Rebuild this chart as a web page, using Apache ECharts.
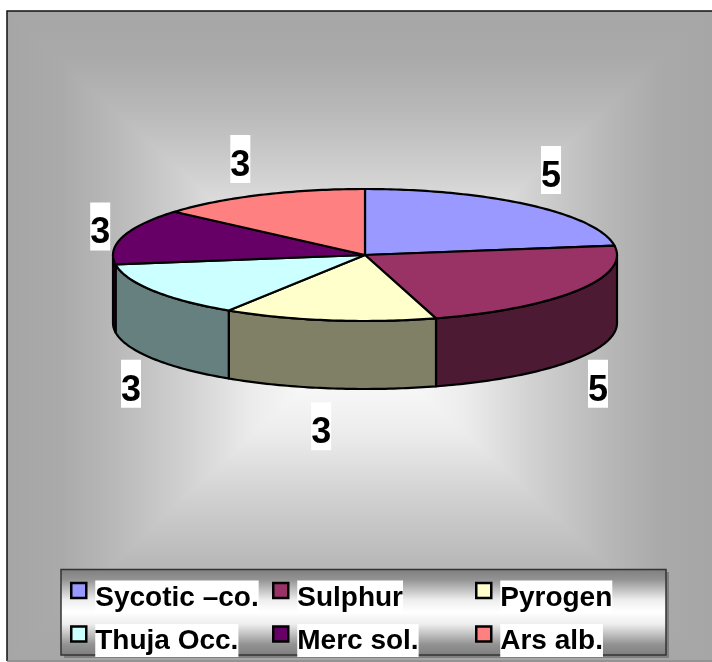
<!DOCTYPE html>
<html>
<head>
<meta charset="utf-8">
<style>html,body{margin:0;padding:0;background:#fff}#chart{width:712px;height:662px}</style>
<script src="https://cdn.jsdelivr.net/npm/echarts@6/dist/echarts.min.js"></script>
</head>
<body>
<div id="chart"></div>
<script>
// Remedies and their counts
const categories = ['Sycotic –co.', 'Sulphur', 'Pyrogen', 'Thuja Occ.', 'Merc sol.', 'Ars alb.'];
const counts = [5, 5, 3, 3, 3, 3];
const topColors = ['#9999FF', '#993366', '#FFFFCC', '#CCFFFF', '#660066', '#FF8080'];
const wallColors = ['#4D4D80', '#4D1A33', '#808066', '#668080', '#330033', '#804040'];
// Label offsets from the outer rim of each slice
const labelOffsets = [[21, -35], [21, 26], [-8, 39], [-22, 26], [-23, -10], [-20, -36]];

// Tilted disc geometry
const disc = { cx: 365, cy: 255, rx: 252, ry: 66, depth: 68 };
const total = counts.reduce((a, b) => a + b, 0);
const startAngles = counts.map((_, i) => counts.slice(0, i).reduce((a, b) => a + b, 0) / total * 360);

function rim(deg, dy) {
  const t = deg * Math.PI / 180;
  return [disc.cx + disc.rx * Math.sin(t), disc.cy - disc.ry * Math.cos(t) + (dy || 0)];
}
function arc(from, to, dy) {
  const pts = [];
  const steps = Math.max(2, Math.ceil(Math.abs(to - from)));
  for (let k = 0; k <= steps; k++) pts.push(rim(from + (to - from) * k / steps, dy));
  return pts;
}

function renderSlice(params, api) {
  const i = params.seriesIndex;
  const value = api.value(0);
  const a0 = startAngles[i];
  const a1 = a0 + value / total * 360;
  const children = [];
  const line = { stroke: '#000', lineWidth: 2.2, lineJoin: 'round' };
  // The side wall only shows on the front half of the disc
  const w0 = Math.max(a0, 90), w1 = Math.min(a1, 270);
  if (w1 > w0) {
    children.push({
      type: 'polygon',
      shape: { points: arc(w0, w1, 0).concat(arc(w1, w0, disc.depth)) },
      style: Object.assign({ fill: wallColors[i] }, line)
    });
  }
  children.push({
    type: 'polygon',
    shape: { points: [[disc.cx, disc.cy]].concat(arc(a0, a1, 0)) },
    style: Object.assign({ fill: topColors[i] }, line)
  });
  const mid = (a0 + a1) / 2;
  const front = mid > 90 && mid < 270;
  const p = rim(mid, front ? disc.depth - 1 : 0);
  // White tag with the digit sitting low inside it
  children.push({
    type: 'text',
    z2: 50,
    style: {
      text: String(value),
      x: p[0] + labelOffsets[i][0],
      y: p[1] + labelOffsets[i][1] - 24,
      align: 'center',
      verticalAlign: 'top',
      fill: '#000',
      font: 'bold 36px "Liberation Sans", Arial, sans-serif',
      backgroundColor: '#fff',
      lineHeight: 34,
      padding: [14, 0, 0, 0]
    }
  });
  return { type: 'group', children };
}

const series = categories.map((name, i) => ({
  name,
  type: 'custom',
  coordinateSystem: 'none',
  renderItem: renderSlice,
  itemStyle: { color: topColors[i] },
  data: [counts[i]],
  silent: true,
  animation: false
}));

// One legend per column, two rows each
function legendColumn(left, names) {
  return {
    left,
    top: 580.5,
    orient: 'vertical',
    padding: 0,
    itemWidth: 15,
    itemHeight: 15,
    itemGap: 10.5,
    selectedMode: false,
    data: names.map(n => ({
      name: n,
      icon: 'rect',
      itemStyle: { color: topColors[categories.indexOf(n)], borderColor: '#000', borderWidth: 2.5 }
    })),
    formatter: '{t|{name}}',
    textStyle: {
      padding: [13, 0, 0, 4],
      rich: {
        t: {
          fontSize: 28, fontWeight: 'bold', fontFamily: '"Liberation Sans", Arial, sans-serif',
          color: '#000', backgroundColor: '#fff', lineHeight: 31, height: 31, padding: [2, 0, 0, 0]
        }
      }
    }
  };
}

// Grey backdrop that brightens toward the middle
const bgStops = [[0, '#A6A6A6'], [0.15, '#AAAAAA'], [0.3, '#B8B8B8'], [0.5, '#D0D0D0'], [0.7, '#ECECEC'], [0.9, '#FCFCFC'], [1, '#FFFFFF']]
  .map(s => ({ offset: s[0], color: s[1] }));
const frame = { x0: 7, y0: 11, x1: 712, y1: 662, mx: 359, my: 336 };
const mirror = bgStops.map(s => ({ offset: s.offset / 2, color: s.color }))
  .concat(bgStops.slice(0, -1).reverse().map(s => ({ offset: 1 - s.offset / 2, color: s.color })));
function grad(x, y, x2, y2, stops) {
  return { type: 'linear', x, y, x2, y2, global: true, colorStops: stops };
}

const graphics = [
  { type: 'rect', z: -10, shape: { x: frame.x0, y: frame.y0, width: frame.x1 - frame.x0, height: frame.y1 - frame.y0 },
    style: { fill: grad(frame.x0, 0, frame.x1, 0, mirror) } },
  { type: 'polygon', z: -9, shape: { points: [[frame.x0, frame.y0], [frame.x1, frame.y0], [frame.mx, frame.my]] },
    style: { fill: grad(0, frame.y0, 0, frame.my, bgStops) } },
  { type: 'polygon', z: -9, shape: { points: [[frame.x0, frame.y1], [frame.x1, frame.y1], [frame.mx, frame.my]] },
    style: { fill: grad(0, frame.y1, 0, frame.my, bgStops) } },
  { type: 'polyline', z: -8, shape: { points: [[7, 661], [7, 11], [712, 11]] },
    style: { stroke: '#111', lineWidth: 1.5, fill: 'none' } },
  { type: 'line', z: -8, shape: { x1: 7, y1: 661, x2: 712, y2: 661 }, style: { stroke: '#808080', lineWidth: 1 } },
  // Legend panel with its drop shadow
  { type: 'rect', z: -7, shape: { x: 64, y: 572, width: 605, height: 86 }, style: { fill: '#808080' } },
  { type: 'rect', z: -6, shape: { x: 61, y: 569.5, width: 605, height: 85.5 },
    style: {
      stroke: '#333', lineWidth: 1.5,
      fill: grad(0, 569, 0, 655, [
        { offset: 0, color: '#7F7F7F' }, { offset: 0.12, color: '#929292' }, { offset: 0.25, color: '#C4C4C4' },
        { offset: 0.36, color: '#EEEEEE' }, { offset: 0.5, color: '#FFFFFF' }, { offset: 0.64, color: '#EEEEEE' },
        { offset: 0.75, color: '#C4C4C4' }, { offset: 0.88, color: '#929292' }, { offset: 1, color: '#7F7F7F' }
      ])
    } }
];

const chart = echarts.init(document.getElementById('chart'), null, { renderer: 'canvas' });
chart.setOption({
  animation: false,
  backgroundColor: '#fff',
  graphic: graphics,
  legend: [
    legendColumn(70, [categories[0], categories[3]]),
    legendColumn(272, [categories[1], categories[4]]),
    legendColumn(475, [categories[2], categories[5]])
  ],
  series
});
</script>
</body>
</html>
